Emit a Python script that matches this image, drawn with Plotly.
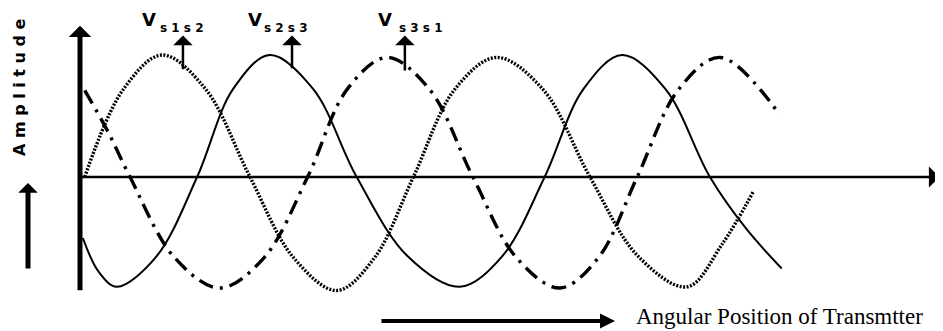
import plotly.graph_objects as go

# ---- data (angular position in degrees, amplitude normalised) ----
s12_x = [5, 46, 87, 133, 180, 226, 272, 312, 353, 397, 441, 490, 540, 591, 643, 680, 713]
s12_y = [0, 0.72, 1.0, 0.72, 0, -0.66, -0.93, -0.66, 0, 0.72, 0.98, 0.72, 0, -0.65, -0.90, -0.55, -0.12]

s23_x = [3, 20, 39, 81, 124, 162, 201, 247, 293, 347, 402, 447, 492, 533, 574, 620, 667, 705, 743]
s23_y = [-0.50, -0.78, -0.90, -0.65, 0, 0.72, 1.0, 0.72, 0, -0.65, -0.90, -0.65, 0, 0.72, 1.0, 0.72, 0, -0.42, -0.75]

s31_x = [5, 29, 53, 100, 148, 195, 241, 283, 325, 370, 416, 462, 508, 549, 590, 634, 678, 741]
s31_y = [0.71, 0.38, 0, -0.66, -0.91, -0.66, 0, 0.72, 0.98, 0.72, 0, -0.66, -0.91, -0.66, 0, 0.72, 0.98, 0.51]

labels = ["s1s2", "s2s3", "s3s1"]
x_title = "Angular Position of Transmtter"
y_title = "Amplitude"

fig = go.Figure()
fig.add_trace(go.Scatter(x=s12_x, y=s12_y, mode="lines", line=dict(color="black", width=3.4, dash="2px,1.5px", shape="spline")))
fig.add_trace(go.Scatter(x=s23_x, y=s23_y, mode="lines", line=dict(color="black", width=2, shape="spline")))
fig.add_trace(go.Scatter(x=s31_x, y=s31_y, mode="lines", line=dict(color="black", width=3.4, dash="15px,7px,3px,7px", shape="spline")))

ann = []
def arrow(x, y, ax, ay, w, head, size):
    ann.append(dict(x=x, y=y, ax=ax, ay=ay, xref="x", yref="y", axref="x", ayref="y",
                    text="", showarrow=True, arrowhead=head, arrowsize=size, arrowwidth=w, arrowcolor="black"))

# page body has an 8px margin: figure pixel = reference pixel - 8
W, H = 935, 323
OFF = 8
def px(x):
    return (x - OFF) / W
def py(y):
    return 1 - (y - OFF) / H

def parrow(x, y, dx, dy, w, head, size):
    ann.append(dict(x=px(x), y=py(y), ax=dx, ay=dy, xref="paper", yref="paper", axref="pixel", ayref="pixel",
                    text="", showarrow=True, arrowhead=head, arrowsize=size, arrowwidth=w, arrowcolor="black"))

# axes as arrows
arrow(0, 1.24, 0, -0.94, 5, 1, 0.75)
arrow(910, 0, 0, 0, 2.5, 1, 1.4)
# label pointer arrows
arrow(109, 1.16, 109, 0.87, 2.5, 1, 1.3)
arrow(224.5, 1.16, 224.5, 0.88, 2.5, 1, 1.3)
arrow(344, 1.16, 344, 0.86, 2.5, 1, 1.3)

parrow(28, 183, 0, 87, 5, 1, 0.65)
parrow(615, 321, -235, 0, 4, 2, 0.75)

bold = dict(family="DejaVu Sans", color="black")
v_pos = [(73, 82.6), (185, 192.7), (323, 335.7)]
for (vx, sx), lab in zip(v_pos, labels):
    ann.append(dict(x=vx, y=1.287, xref="x", yref="y", text="<b>V</b>", showarrow=False,
                    xanchor="center", yanchor="middle", font=dict(size=18, **bold)))
    ann.append(dict(x=sx, y=1.225, xref="x", yref="y", text="<b>" + "\u00a0".join(lab) + "</b>",
                    showarrow=False, xanchor="left", yanchor="middle", font=dict(size=12, **bold)))

ann.append(dict(x=px(20), y=py(87), xref="paper", yref="paper", text="<b>" + " ".join(y_title) + "</b>",
                textangle=-90, showarrow=False, xanchor="center", yanchor="middle", font=dict(size=16, **bold)))
ann.append(dict(x=px(634), y=0, xref="paper", yref="paper", text=x_title, xanchor="left", yanchor="bottom",
                showarrow=False, font=dict(family="Liberation Serif", size=23, color="black")))

fig.update_layout(
    width=W, height=H, margin=dict(l=0, r=0, t=0, b=0),
    paper_bgcolor="white", plot_bgcolor="white", showlegend=False,
    xaxis=dict(range=[(OFF - 80) / 0.9444, (943 - 80) / 0.9444], visible=False),
    yaxis=dict(range=[(177 - 331) / 122, (177 - OFF) / 122], visible=False),
    annotations=ann,
)
fig.write_html("out.html")
